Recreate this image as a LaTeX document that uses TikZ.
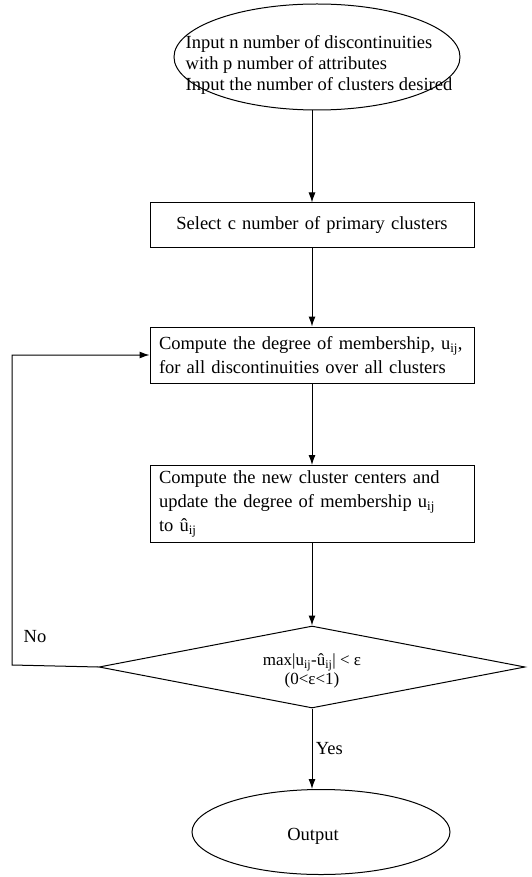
\documentclass[tikz,border=0pt]{standalone}
\usepackage{fontspec}
\setmainfont{Liberation Serif}
\usetikzlibrary{arrows.meta,shapes.geometric,positioning}

\begin{document}
\begin{tikzpicture}[x=1pt,y=-1pt,>={Latex[length=10pt,width=7pt]},line width=1pt,
    every node/.style={font=\fontsize{18.5}{24}\selectfont},
    stepbox/.style={draw,rectangle,minimum width=324pt,text width=306pt,
        inner xsep=9pt,align=left},
    termnode/.style={draw,ellipse,inner sep=0pt}]
    \useasboundingbox (0,0) rectangle (531,877);
    % start and end
    \node [termnode,minimum width=286pt,minimum height=106pt,
        label={[align=left,xshift=2pt,yshift=-8pt,font=\fontsize{18.5}{21}\selectfont]center:Input n number of discontinuities\\
        with p number of attributes\\Input the number of clusters desired}] (input) at (317,57) {};
    \node [termnode,minimum width=258pt,minimum height=85pt,
        label={[xshift=-8pt,yshift=-4pt]center:Output}] (output) at (321,832) {};
    % the steps
    \node [stepbox,minimum height=44pt,align=center] (select) at (312,225)
        {Select c number of primary clusters};
    \node [stepbox,minimum height=56pt] (degree) at (312,355)
        {Compute the degree of membership, u\textsubscript{ij},\\
        for all discontinuities over all clusters};
    \node [stepbox,minimum height=77pt] (update) at (312,504)
        {Compute the new cluster centers and\\
        update the degree of membership u\textsubscript{ij}\\
        to û\textsubscript{ij}};
    \node [draw,diamond,aspect=5,inner sep=0pt,minimum width=426pt,minimum height=82pt,
        label={[align=center,yshift=-4pt,font=\fontsize{17}{19}\selectfont]center:max|u\textsubscript{ij}-û\textsubscript{ij}| < ε\\(0<ε<1)}]
        (test) at (312,667) {};
    \coordinate (back) at (12,665);
    % connectors
    \draw [->] (input.south -| select.north) -- (select);
    \draw [->] (select) -- (degree);
    \draw [->] (degree) -- (update);
    \draw [->] (update) -- (test);
    \draw [->] (test.south) -- node[right] {Yes} (test.south |- output.north);
    \draw [->] (test.west) -- (back) |- (degree.west);
    \node at (35,637) {No};
\end{tikzpicture}
\end{document}
